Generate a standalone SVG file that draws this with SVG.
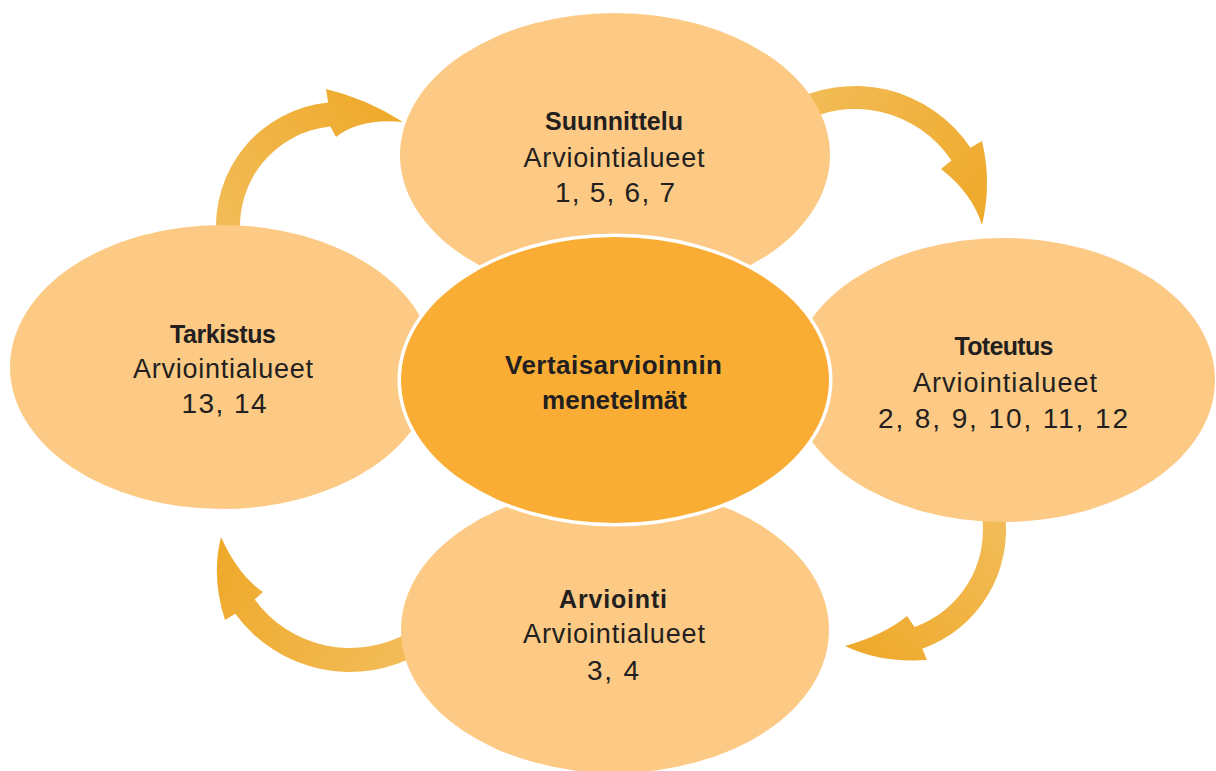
<svg xmlns="http://www.w3.org/2000/svg" width="1216" height="771" viewBox="0 0 1216 771">
<style>
.outer{fill:#FCCA84}
.core{fill:#FAAD35}
.halo{fill:#FFFFFF}
text{font-family:"Liberation Sans",Arial,sans-serif;fill:#231F20;text-anchor:middle}
.t{font-size:25px;font-weight:bold}
.r{font-size:27px}
.n{font-size:28px}
.c{font-size:26px;font-weight:bold}
</style>
<defs>
<linearGradient id="g1" gradientUnits="userSpaceOnUse" x1="220" y1="235" x2="400" y2="115"><stop offset="0" stop-color="#F3BC58"/><stop offset="1" stop-color="#EEA92A"/></linearGradient>
<linearGradient id="g2" gradientUnits="userSpaceOnUse" x1="790" y1="110" x2="985" y2="220"><stop offset="0" stop-color="#F3BC58"/><stop offset="1" stop-color="#EEA92A"/></linearGradient>
<linearGradient id="g3" gradientUnits="userSpaceOnUse" x1="995" y1="515" x2="850" y2="650"><stop offset="0" stop-color="#F3BC58"/><stop offset="1" stop-color="#EEA92A"/></linearGradient>
<linearGradient id="g4" gradientUnits="userSpaceOnUse" x1="415" y1="645" x2="222" y2="540"><stop offset="0" stop-color="#F3BC58"/><stop offset="1" stop-color="#EEA92A"/></linearGradient>
</defs>
<g id="connectors">
<path fill="url(#g1)" d="M 216.5 236.8 A 124 124 0 0 1 328.1 102.6 L 326 89 Q 365 98 403 122 Q 360 118 336 137 L 330.4 126.5 A 100 100 0 0 0 240.4 234.7 Z"/>
<path fill="url(#g2)" d="M 785.5 104.6 A 139 139 0 0 1 970.5 147.7 L 982 141 Q 992 183 982 225 Q 972 193 941 169 L 951.4 160.5 A 116 116 0 0 0 797 124.5 Z"/>
<path fill="url(#g3)" d="M 1004.8 512.5 A 126 126 0 0 1 922.3 648.7 L 927 660 Q 880 663 845 646 Q 884 635 907 616 L 914.6 627 A 103 103 0 0 0 982 515.7 Z"/>
<path fill="url(#g4)" d="M 421 653 A 142 142 0 0 1 235.3 613.7 L 225 620 Q 211 577 221 537 Q 238 575 263 592 L 254.7 599.6 A 118 118 0 0 0 409 632.2 Z"/>
</g>
<g id="suunnittelu">
<ellipse class="outer" cx="615" cy="155" rx="215" ry="142"/>
<text class="t" x="614" y="130" textLength="138" lengthAdjust="spacing">Suunnittelu</text>
<text class="r" x="614" y="167" textLength="181" lengthAdjust="spacing">Arviointialueet</text>
<text class="n" x="615" y="202" textLength="120" lengthAdjust="spacing">1, 5, 6, 7</text>
</g>
<g id="tarkistus">
<ellipse class="outer" cx="222" cy="367" rx="212" ry="142"/>
<text class="t" x="223" y="343" textLength="106" lengthAdjust="spacing">Tarkistus</text>
<text class="r" x="223" y="378" textLength="180" lengthAdjust="spacing">Arviointialueet</text>
<text class="n" x="224" y="413" textLength="85" lengthAdjust="spacing">13, 14</text>
</g>
<g id="toteutus">
<ellipse class="outer" cx="1003" cy="380" rx="212" ry="142"/>
<text class="t" x="1004" y="355" textLength="99" lengthAdjust="spacing">Toteutus</text>
<text class="r" x="1005" y="392" textLength="184" lengthAdjust="spacing">Arviointialueet</text>
<text class="n" x="1003" y="428" textLength="250" lengthAdjust="spacing">2, 8, 9, 10, 11, 12</text>
</g>
<g id="arviointi">
<ellipse class="outer" cx="615" cy="630" rx="214" ry="143"/>
<text class="t" x="613" y="608" textLength="108" lengthAdjust="spacing">Arviointi</text>
<text class="r" x="614" y="643" textLength="182" lengthAdjust="spacing">Arviointialueet</text>
<text class="n" x="613" y="680" textLength="52" lengthAdjust="spacing">3, 4</text>
</g>
<g id="menetelmat">
<ellipse class="halo" cx="615" cy="380" rx="217.5" ry="146.5"/>
<ellipse class="core" cx="615" cy="380" rx="214" ry="143"/>
<text class="c" x="613.5" y="374" textLength="217" lengthAdjust="spacing">Vertaisarvioinnin</text>
<text class="c" x="614.5" y="409" textLength="145" lengthAdjust="spacing">menetelmät</text>
</g>
</svg>
